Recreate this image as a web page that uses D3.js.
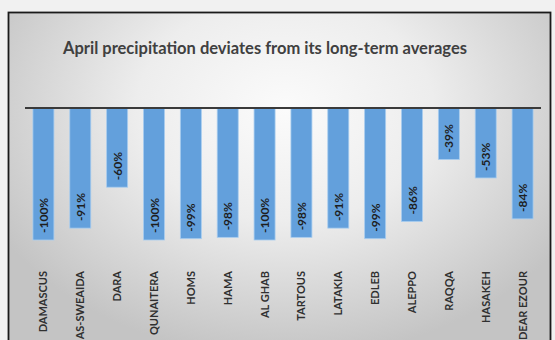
<!DOCTYPE html>
<html>
<head>
<meta charset="utf-8">
<script src="https://cdn.jsdelivr.net/npm/d3@7/dist/d3.min.js"></script>
<style>
  html, body { margin: 0; padding: 0; background: #f1f1f1; }
  svg { display: block; }
</style>
</head>
<body>
<svg id="chart" width="555" height="340"></svg>
<script>
// April precipitation deviation from long-term average, by station
const stations = ["DAMASCUS", "AS-SWEAIDA", "DARA", "QUNAITERA", "HOMS", "HAMA", "AL GHAB",
                  "TARTOUS", "LATAKIA", "EDLEB", "ALEPPO", "RAQQA", "HASAKEH", "DEAR EZOUR"];
const deviation = [-1.00, -0.91, -0.60, -1.00, -0.99, -0.98, -1.00,
                   -0.98, -0.91, -0.99, -0.86, -0.39, -0.53, -0.84];
const chartTitle = "April precipitation deviates from its long-term averages";

const svg = d3.select("#chart");
const W = 555, H = 340;

// chart area background: soft radial gray gradient inside a dark frame
const defs = svg.append("defs");
const grad = defs.append("radialGradient")
  .attr("id", "bg").attr("gradientUnits", "userSpaceOnUse")
  .attr("cx", 285).attr("cy", 110).attr("r", 330)
  .attr("gradientTransform", "translate(285,110) scale(1,0.75) translate(-285,-110)");
grad.append("stop").attr("offset", "0%").attr("stop-color", "#fbfbfb");
grad.append("stop").attr("offset", "45%").attr("stop-color", "#ededed");
grad.append("stop").attr("offset", "100%").attr("stop-color", "#c4c4c4");

svg.append("rect").attr("x", 0).attr("y", 0).attr("width", W).attr("height", H).attr("fill", "#f1f1f1");
svg.append("rect")
  .attr("x", 8.5).attr("y", 12.5).attr("width", 542).attr("height", 340)
  .attr("fill", "url(#bg)").attr("stroke", "#1a1a1a").attr("stroke-width", 1.8);

// title
svg.append("text")
  .attr("x", 265).attr("y", 54)
  .attr("text-anchor", "middle")
  .attr("font-family", "Lato, 'Open Sans', sans-serif")
  .attr("font-weight", "bold")
  .attr("font-size", 16.5)
  .attr("fill", "#404040")
  .text(chartTitle);

// scales
const x = d3.scaleBand().domain(stations).range([25, 541])
  .paddingInner(0.43).paddingOuter(0.215);
const y = d3.scaleLinear().domain([-1, 0]).range([240, 108]);

// bars
svg.append("g").selectAll("rect")
  .data(stations)
  .join("rect")
  .attr("x", d => x(d))
  .attr("width", x.bandwidth())
  .attr("y", y(0))
  .attr("height", (d, i) => y(deviation[i]) - y(0))
  .attr("fill", "#63a0dc")
  .attr("stroke", "#a9cdef")
  .attr("stroke-width", 0.8);

// zero line
svg.append("line")
  .attr("x1", 25).attr("x2", 541)
  .attr("y1", y(0)).attr("y2", y(0))
  .attr("stroke", "#3a3a3a").attr("stroke-width", 2);

// value labels, rotated, inside the bar end (plain hyphen as minus)
const fmt = d3.formatLocale({
  decimal: ".", thousands: ",", grouping: [3], currency: ["$", ""], minus: "-", percent: "%"
}).format(".0%");
svg.append("g").selectAll("text")
  .data(stations)
  .join("text")
  .attr("transform", (d, i) => `translate(${x(d) + x.bandwidth() / 2 + 4.5},${y(deviation[i]) - 7}) rotate(-90)`)
  .attr("text-anchor", "start")
  .attr("font-family", "Lato, 'Open Sans', sans-serif")
  .attr("font-weight", "bold")
  .attr("font-size", 12)
  .attr("fill", "#1e1e1e")
  .text((d, i) => fmt(deviation[i]));

// category axis labels, rotated
svg.append("g").selectAll("text")
  .data(stations)
  .join("text")
  .attr("transform", d => `translate(${x(d) + x.bandwidth() / 2 + 4},271) rotate(-90)`)
  .attr("text-anchor", "end")
  .attr("font-family", "Lato, 'Open Sans', sans-serif")
  .attr("font-weight", "bold")
  .attr("font-size", 11)
  .attr("fill", "#303030")
  .text(d => d);
</script>
</body>
</html>
